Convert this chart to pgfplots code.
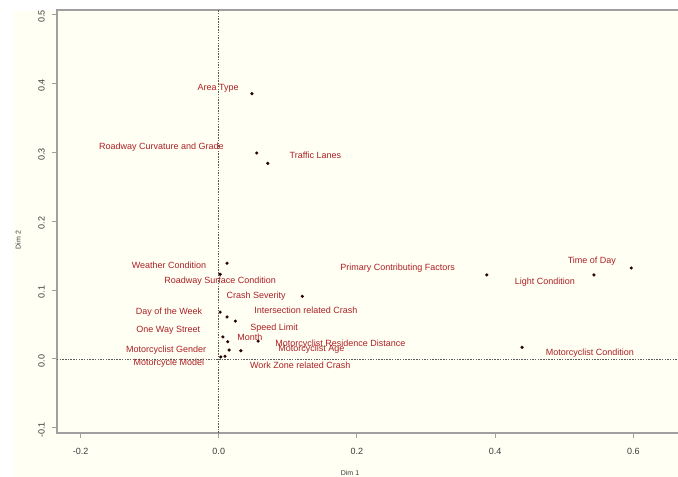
\documentclass[border=0pt]{standalone}
\usepackage{pgfplots}
\pgfplotsset{compat=1.18}
\usepackage{fontspec}
\setmainfont{Liberation Sans}
\definecolor{cream}{RGB}{255,255,244}
\definecolor{lblred}{RGB}{172,32,36}
\definecolor{axgray}{RGB}{160,160,160}
\definecolor{tickgray}{RGB}{60,60,60}
\definecolor{dotgray}{RGB}{90,90,90}
\begin{document}
\begin{tikzpicture}
\fill[cream] (13pt,0) rectangle (678pt,466pt);
\begin{axis}[
    at={(57pt,44pt)}, anchor=south west,
    scale only axis,
    width=643pt, height=423pt,
    xmin=-0.2341, xmax=0.6965,
    ymin=-0.1074, ymax=0.5065,
    axis line style={axgray, line width=1.5pt},
    tick style={axgray, line width=1pt},
    major tick length=5pt,
    tick align=outside,
    xtick={-0.2,0,0.2,0.4,0.6},
    xticklabels={-0.2,0.0,0.2,0.4,0.6},
    ytick={-0.1,0,0.1,0.2,0.3,0.4,0.5},
    yticklabels={-0.1,0.0,0.1,0.2,0.3,0.4,0.5},
    xtick pos=bottom, ytick pos=left,
    ticklabel style={font=\fontsize{9}{10}\selectfont, text=tickgray},
    xticklabel style={anchor=north, inner sep=0pt, yshift=-10pt},
    yticklabel style={rotate=90, anchor=south, inner sep=0pt, yshift=7pt, xshift=-2pt},
    xlabel={Dim 1}, ylabel={Dim 2},
    label style={font=\fontsize{7}{8}\selectfont, text=tickgray},
    xlabel style={at={(axis description cs:0.4557,0)}, anchor=center, yshift=-40pt},
    ylabel style={at={(axis description cs:0,0.456)}, anchor=center, yshift=39pt},
    clip=false,
]
% zero reference lines
\addplot[dotgray, line width=0.8pt, dash pattern=on 1.5pt off 1.2pt]
    coordinates {(0,-0.1074) (0,0.5065)};
\addplot[dotgray, line width=0.8pt, dash pattern=on 1.5pt off 1.2pt]
    coordinates {(-0.2341,0) (0.6965,0)};
% variable points
\addplot[only marks, mark=*, mark size=1.4pt, color=black!85!red] coordinates {
    (0.048,0.385) (0.055,0.299) (0.071,0.284)
    (0.012,0.139) (0.002,0.123) (0.121,0.091)
    (0.002,0.068) (0.012,0.061) (0.024,0.055)
    (0.006,0.032) (0.013,0.025) (0.057,0.026)
    (0.015,0.013) (0.032,0.012) (0.009,0.004) (0.003,0.003)
    (0.388,0.122) (0.543,0.122) (0.597,0.132) (0.439,0.017)
};
% labels
\begin{scope}[every node/.style={text=lblred, font=\fontsize{9}{10}\selectfont, inner sep=0pt}]
\node at (axis cs:-0.001,0.393) {Area Type};
\node at (axis cs:-0.083,0.308) {Roadway Curvature and Grade};
\node at (axis cs:0.140,0.295) {Traffic Lanes};
\node at (axis cs:-0.072,0.136) {Weather Condition};
\node at (axis cs:0.002,0.113) {Roadway Surface Condition};
\node at (axis cs:0.054,0.091) {Crash Severity};
\node at (axis cs:-0.072,0.068) {Day of the Week};
\node at (axis cs:0.126,0.070) {Intersection related Crash};
\node at (axis cs:-0.073,0.042) {One Way Street};
\node at (axis cs:0.080,0.045) {Speed Limit};
\node at (axis cs:0.045,0.032) {Month};
\node at (axis cs:0.176,0.022) {Motorcyclist Residence Distance};
\node at (axis cs:0.134,0.0145) {Motorcyclist Age};
\node at (axis cs:-0.076,0.013) {Motorcyclist Gender};
\node at (axis cs:-0.072,-0.006) {Motorcycle Model};
\node at (axis cs:0.118,-0.009) {Work Zone related Crash};
\node at (axis cs:0.259,0.132) {Primary Contributing Factors};
\node at (axis cs:0.472,0.112) {Light Condition};
\node at (axis cs:0.540,0.142) {Time of Day};
\node at (axis cs:0.537,0.009) {Motorcyclist Condition};
\end{scope}
\end{axis}
\pgfresetboundingbox
\useasboundingbox (0,0) rectangle (678pt,477pt);
\end{tikzpicture}
\end{document}
